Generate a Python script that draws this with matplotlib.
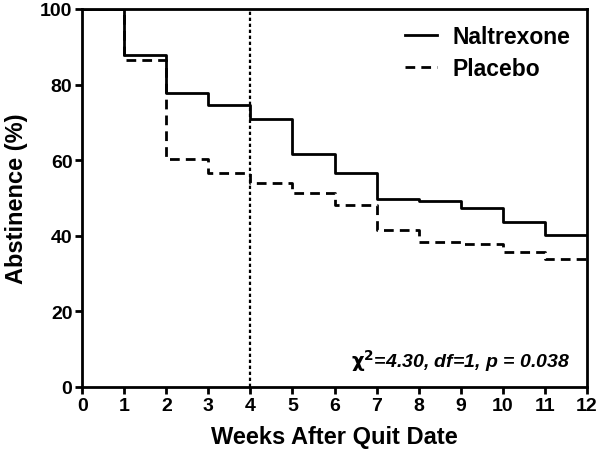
import matplotlib
matplotlib.use("Agg")
import matplotlib.pyplot as plt

plt.rcParams['font.family'] = ['Liberation Sans', 'DejaVu Sans']
plt.rcParams['font.weight'] = 'bold'

weeks = [0, 1, 2, 3, 4, 5, 6, 7, 8, 9, 10, 11, 12]
naltrexone = [100, 87.7, 77.7, 74.5, 71.0, 61.5, 56.5, 49.8, 49.2, 47.2, 43.5, 40.3, 40.3]
placebo = [100, 86.5, 60.4, 56.5, 54.0, 51.3, 48.2, 41.5, 38.3, 37.8, 35.8, 33.7, 33.7]
xticks = list(range(0, 13))
yticks = [0, 20, 40, 60, 80, 100]

fig = plt.figure(figsize=(6, 4.52), dpi=100)
ax = fig.add_axes([0.137, 0.142, 0.841, 0.836])

ax.step(weeks, naltrexone, where='post', color='black', lw=2, label='Naltrexone')
ax.step(weeks, placebo, where='post', color='black', lw=2, ls=(0, (3.5, 2.2)), label='Placebo')
ax.axvline(4, color='black', lw=1.6, ls=(0, (1.5, 1.2)))

ax.set_xlim(0, 12)
ax.set_ylim(0, 100)
ax.set_xticks(xticks)
ax.set_yticks(yticks)
ax.tick_params(direction='out', width=2, length=5, labelsize=14, pad=2)
for s in ax.spines.values():
    s.set_linewidth(2)

ax.set_xlabel('Weeks After Quit Date', fontsize=17, fontweight='bold', labelpad=8)
ax.set_ylabel('Abstinence (%)', fontsize=17, fontweight='bold', labelpad=9)

ax.text(11.6, 7.2, r'$\mathrm{\chi}^{2}$=4.30, df=1, p = 0.038', ha='right', va='center',
        fontsize=14, fontstyle='italic', fontweight='bold')

ax.legend(loc='upper right', frameon=False, fontsize=16.5, handlelength=1.4,
          handletextpad=0.7, borderaxespad=0.3, labelspacing=0.4)

fig.savefig('out.png', dpi=100)
